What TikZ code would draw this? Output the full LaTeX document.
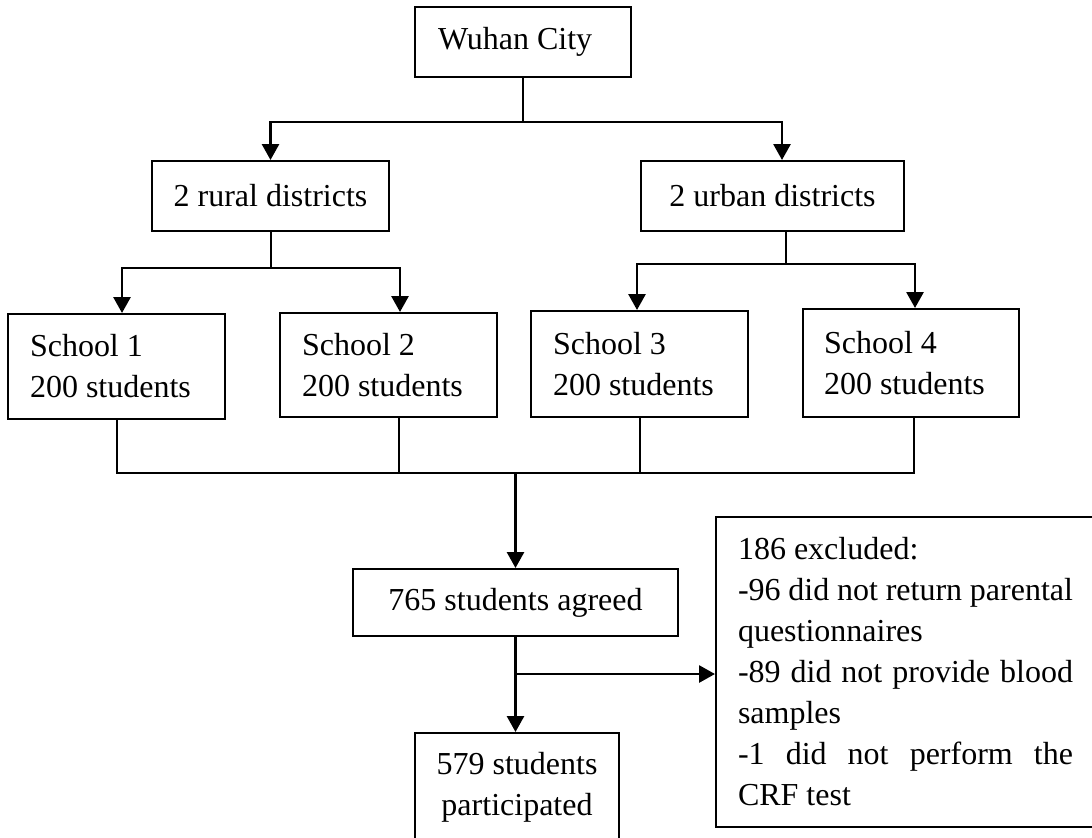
\documentclass[tikz,border=0pt]{standalone}
\usepackage{fontspec}
\setmainfont{Liberation Serif}
\usetikzlibrary{arrows.meta}
\newcommand{\normsp}{\spaceskip=0pt\xspaceskip=0pt\relax}
\begin{document}
\begin{tikzpicture}[x=0.5pt,y=-0.5pt,
  box/.style={draw, line width=1pt, inner ysep=0pt, font=\fontsize{16}{20.5}\selectfont},
  conn/.style={line width=1pt},
  arr/.style={line width=1.4pt, -{Triangle[width=8.5pt,length=8pt]}}]
\useasboundingbox (0,0) rectangle (1092,837);
% boxes
\node[box, text width=85pt, inner xsep=11.5pt, minimum height=35pt, align=left] (wuhan) at (523,42) {\normsp Wuhan City};
\node[box, minimum width=118.5pt, minimum height=35pt, inner xsep=0pt] (rural) at (270.5,196) {2 rural districts};
\node[box, minimum width=131.5pt, minimum height=35pt, inner xsep=0pt] (urban) at (772.5,196) {2 urban districts};
\node[box, text width=86.5pt, inner xsep=11pt, minimum height=52.5pt, align=left] (s1) at (116.5,366.5) {\normsp School 1\\200 students};
\node[box, text width=86.5pt, inner xsep=11pt, minimum height=52pt, align=left] (s2) at (388.5,365) {\normsp School 2\\200 students};
\node[box, text width=86.5pt, inner xsep=11pt, minimum height=53pt, align=left] (s3) at (639.5,364) {\normsp School 3\\200 students};
\node[box, text width=87pt, inner xsep=10.5pt, minimum height=54pt, align=left] (s4) at (911,363) {\normsp School 4\\200 students};
\node[box, minimum width=162.5pt, minimum height=33.5pt, inner xsep=0pt] (agreed) at (515.5,602.5) {765 students agreed};
\node[box, minimum width=102pt, minimum height=54pt, inner xsep=0pt, align=center] (part) at (517,787) {579 students\\participated};
\node[box, text width=167.5pt, inner xsep=11pt, minimum height=155pt, align=left] (excl) at (905.5,672)
  {\normsp 186 excluded:\\
   \makebox[167.5pt][s]{-96 did not return parental}\\
   questionnaires\\
   \makebox[167.5pt][s]{-89 did not provide blood}\\
   samples\\
   \makebox[167.5pt][s]{-1 did not perform the}\\
   CRF test};
% junctions
\coordinate (j1) at (523,122);
\coordinate (j2) at (270.5,268);
\coordinate (j3) at (786,264);
\coordinate (j4) at (515.5,473);
\coordinate (j5) at (515.5,674);
% connectors
\draw[conn] (wuhan.south) -- (j1);
\draw[arr] (j1) -| (rural.north);
\draw[arr] (j1) -| ([xshift=4.75pt]urban.north);
\draw[conn] (rural.south) -- (j2);
\draw[arr] (j2) -| ([xshift=2.75pt]s1.north);
\draw[arr] (j2) -| ([xshift=5.75pt]s2.north);
\draw[conn] ([xshift=6.75pt]urban.south) -- (j3);
\draw[arr] (j3) -| ([xshift=-1.25pt]s3.north);
\draw[arr] (j3) -| ([xshift=2pt]s4.north);
\draw[conn] (s1.south) |- (j4);
\draw[conn] ([xshift=5.25pt]s2.south) |- (j4);
\draw[conn] (s3.south) |- (j4);
\draw[conn] ([xshift=1.5pt]s4.south) |- (j4);
\draw[arr] (j4) -- (agreed.north);
\draw[arr] (agreed.south) -- (agreed.south |- part.north);
\draw[arr] (j5) -- (j5 -| excl.west);
\end{tikzpicture}
\end{document}
